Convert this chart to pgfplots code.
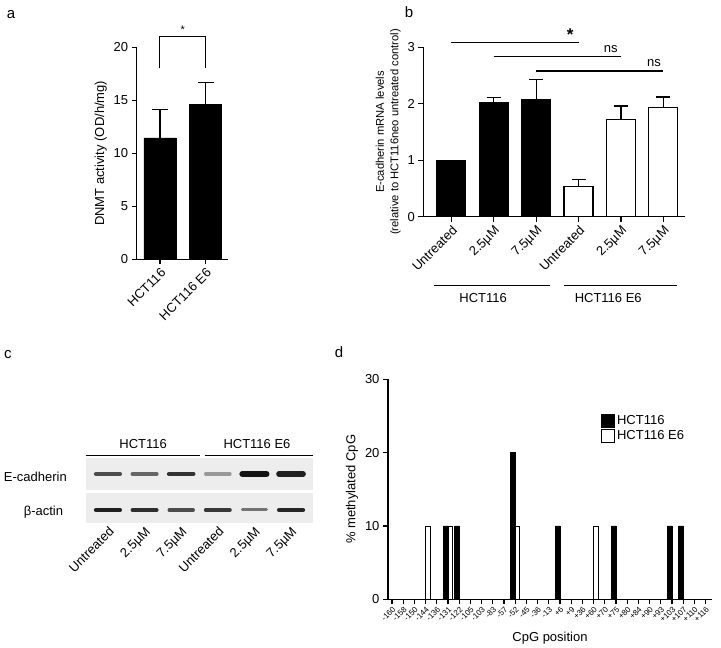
\documentclass[border=0pt]{standalone}
\usepackage{fontspec}
\setmainfont{Liberation Sans}
\usepackage{pgfplots}
\pgfplotsset{compat=1.18}
\pgfplotsset{
  base/.style={scale only axis, anchor=south west, axis lines=left,
    axis line style={-, line width=1.1pt}, tick style={line width=1.1pt, black},
    tick align=outside, major tick length=5pt,
    /pgf/number format/assume math mode=true,
    tick label style={font=\fontsize{13}{15}\selectfont},
    label style={font=\fontsize{13}{15}\selectfont}, clip=false},
}
\begin{document}
\begin{tikzpicture}
\useasboundingbox (0pt,0pt) rectangle (721pt,648pt);
% panel letters
\node[font=\fontsize{15}{17}\selectfont] at (11pt,633pt) {a};
\node[font=\fontsize{15}{17}\selectfont] at (409pt,636pt) {b};
\node[font=\fontsize{15}{17}\selectfont] at (8pt,293pt) {c};
\node[font=\fontsize{15}{17}\selectfont] at (339pt,296pt) {d};

% ---------------- panel a
\begin{axis}[base, at={(136.7pt,388.7pt)}, width=91.3pt, height=212pt,
  xmin=-0.51, xmax=1.49, ymin=0, ymax=20, ytick={0,5,10,15,20},
  xtick={0,1}, xticklabels={HCT116,HCT116 E6},
  xticklabel style={rotate=45, anchor=north east, inner sep=2pt},
  ylabel={DNMT activity (OD/h/mg)}]
\addplot[ybar, bar width=32pt, bar shift=0pt, fill=black, draw=black,
  error bars/.cd, y dir=plus, y explicit,
  error bar style={line width=1.2pt, black},
  error mark options={rotate=90, mark size=8pt, line width=1.2pt, black}]
  coordinates {(0,11.45) +- (0,2.7) (1,14.6) +- (0,2.1)};
\draw[line width=1pt] (axis cs:0,18) -- (axis cs:0,21) -- (axis cs:1,21) -- (axis cs:1,18);
\node[font=\fontsize{11}{13}\selectfont] at (axis cs:0.5,21.7) {*};
\end{axis}

% ---------------- panel b
\begin{axis}[base, at={(423.3pt,431.3pt)}, width=261.7pt, height=169.4pt,
  xmin=-0.66, xmax=5.51, ymin=0, ymax=3, ytick={0,1,2,3},
  xtick={0,...,5}, xticklabels={Untreated,2.5µM,7.5µM,Untreated,2.5µM,7.5µM},
  xticklabel style={rotate=45, anchor=north east, inner sep=2pt},
  ylabel={E-cadherin mRNA levels\\(relative to HCT116neo untreated control)},
  ylabel style={align=center, font=\fontsize{11.2}{14.5}\selectfont}]
\addplot[ybar, bar width=29pt, bar shift=0pt, fill=black, draw=black, line width=1.1pt,
  error bars/.cd, y dir=plus, y explicit,
  error bar style={line width=1.2pt, black},
  error mark options={rotate=90, mark size=7pt, line width=1.2pt, black}]
  coordinates {(0,1.0) +- (0,0) (1,2.02) +- (0,0.09) (2,2.08) +- (0,0.35)};
\addplot[ybar, bar width=29pt, bar shift=0pt, fill=white, draw=black, line width=1.1pt,
  error bars/.cd, y dir=plus, y explicit,
  error bar style={line width=1.2pt, black},
  error mark options={rotate=90, mark size=7pt, line width=1.2pt, black}]
  coordinates {(3,0.54) +- (0,0.12) (4,1.72) +- (0,0.24) (5,1.93) +- (0,0.19)};
\draw[line width=1.1pt] (axis cs:-0.01,3.08) -- (axis cs:3.0,3.08);
\node[font=\fontsize{17}{19}\selectfont\bfseries] at (axis cs:2.8,3.22) {*};
\draw[line width=1.1pt] (axis cs:1.0,2.83) -- (axis cs:4.0,2.83);
\node[font=\fontsize{13}{15}\selectfont] at (axis cs:3.76,2.97) {ns};
\draw[line width=1.1pt] (axis cs:2.0,2.58) -- (axis cs:5.0,2.58);
\node[font=\fontsize{13}{15}\selectfont] at (axis cs:4.78,2.72) {ns};
\draw[line width=1pt] (axis cs:-0.41,-1.227) -- (axis cs:2.33,-1.227);
\draw[line width=1pt] (axis cs:2.66,-1.227) -- (axis cs:5.32,-1.227);
\node[font=\fontsize{13}{15}\selectfont] at (axis cs:0.75,-1.434) {HCT116};
\node[font=\fontsize{13}{15}\selectfont] at (axis cs:3.7,-1.434) {HCT116 E6};
\end{axis}

% ---------------- panel c (blot)
\begin{axis}[base, at={(86pt,125pt)}, width=227pt, height=65pt,
  xmin=-0.6, xmax=5.6, ymin=0, ymax=1,
  axis line style={draw=none}, major tick length=0pt, ytick=\empty,
  xtick={0,...,5}, xticklabels={Untreated,2.5µM,7.5µM,Untreated,2.5µM,7.5µM},
  xticklabel style={rotate=45, anchor=north east, inner sep=2pt}]
\addplot[fill=black!7, draw=none] coordinates {(-0.6,0.508) (5.6,0.508) (5.6,1) (-0.6,1)} -- cycle;
\addplot[fill=black!7, draw=none] coordinates {(-0.6,0) (5.6,0) (5.6,0.46) (-0.6,0.46)} -- cycle;
% E-cadherin bands
\addplot[line width=4pt, black!70, line cap=round] coordinates {(-0.33,0.754) (0.33,0.754)};
\addplot[line width=4pt, black!60, line cap=round] coordinates {(0.67,0.754) (1.33,0.754)};
\addplot[line width=4.5pt, black!80, line cap=round] coordinates {(1.67,0.754) (2.33,0.754)};
\addplot[line width=3.5pt, black!40, line cap=round] coordinates {(2.67,0.754) (3.33,0.754)};
\addplot[line width=6pt, black!92, line cap=round] coordinates {(3.67,0.754) (4.33,0.754)};
\addplot[line width=5.5pt, black!88, line cap=round] coordinates {(4.67,0.754) (5.33,0.754)};
% beta-actin bands
\addplot[line width=4pt, black!88, line cap=round] coordinates {(-0.33,0.2) (0.33,0.2)};
\addplot[line width=3.8pt, black!82, line cap=round] coordinates {(0.67,0.2) (1.33,0.2)};
\addplot[line width=3.2pt, black!70, line cap=round] coordinates {(1.67,0.2) (2.33,0.2)};
\addplot[line width=3.8pt, black!78, line cap=round] coordinates {(2.67,0.2) (3.33,0.2)};
\addplot[line width=3pt, black!55, line cap=round] coordinates {(3.67,0.2) (4.33,0.2)};
\addplot[line width=4pt, black!85, line cap=round] coordinates {(4.67,0.2) (5.33,0.2)};
\draw[line width=1pt] (axis cs:-0.6,1.035) -- (axis cs:2.51,1.035);
\draw[line width=1pt] (axis cs:2.65,1.035) -- (axis cs:5.6,1.035);
\node[font=\fontsize{13}{15}\selectfont] at (axis cs:0.96,1.21) {HCT116};
\node[font=\fontsize{13}{15}\selectfont] at (axis cs:4.07,1.21) {HCT116 E6};
\node[anchor=east, inner sep=0pt, font=\fontsize{13}{15}\selectfont] at (axis cs:-1.12,0.71) {E-cadherin};
\node[anchor=east, inner sep=0pt, font=\fontsize{13}{15}\selectfont] at (axis cs:-1.22,0.16) {β-actin};
\end{axis}

% ---------------- panel d
\begin{axis}[base, at={(388pt,48.7pt)}, width=324pt, height=220pt,
  xmin=-0.36, xmax=28.57, ymin=0, ymax=30, ytick={0,10,20,30},
  xtick={0,...,28},
  xticklabels={-160,-158,-150,-144,-136,-131,-122,-105,-103,-83,-57,-52,-45,-36,-13,+6,+9,+36,+60,+70,+75,+80,+84,+90,+93,+103,+107,+110,+116},
  xticklabel style={rotate=45, anchor=north east, font=\fontsize{8}{9}\selectfont, inner sep=1pt},
  xlabel={CpG position}, xlabel style={yshift=-4pt}, ylabel={\% methylated CpG},
  ybar=0pt, bar width=4.5pt,
  legend style={at={(axis cs:18.4,25.6)}, anchor=north west, draw=none, fill=none,
    font=\fontsize{13}{15}\selectfont, row sep=0pt},
  legend cell align=left,
  legend image code/.code={\draw[#1, line width=0.8pt] (0pt,-6.5pt) rectangle (13pt,6.5pt);}]
\addplot[fill=black, draw=black, line width=0.6pt]
  coordinates {(5,10) (6,10) (11,20) (15,10) (20,10) (25,10) (26,10)};
\addplot[fill=white, draw=black, line width=0.6pt]
  coordinates {(3,10) (5,10) (11,10) (18,10)};
\legend{HCT116, HCT116 E6}
\end{axis}
\end{tikzpicture}
\end{document}
